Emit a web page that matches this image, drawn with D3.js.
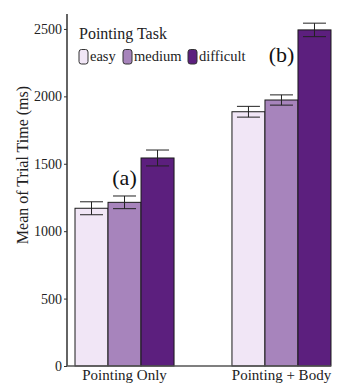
<!DOCTYPE html>
<html><head><meta charset="utf-8">
<script src="https://cdn.jsdelivr.net/npm/d3@7"></script>
<style>body{margin:0;background:#fff}text{font-family:"Liberation Serif","Times New Roman",serif}</style>
</head><body><svg id="c" width="339" height="385"></svg>
<script>
const groups = ["Pointing Only", "Pointing + Body"];
const levels = ["easy", "medium", "difficult"];
const means = [[1170, 1214, 1543], [1886, 1973, 2493]];
const errs = [[48, 47, 59], [40, 38, 50]];
const annotations = ["(a)", "(b)"];
const annotationY = [1343, 2255];
const yTicks = [0, 500, 1000, 1500, 2000, 2500];
const colors = ["#f1e6f6", "#a784bc", "#5c1f7e"];

const svg = d3.select("#c");
const L = 67, R = 339, T = 14, B = 366;
const y = d3.scaleLinear().domain([0, 2611]).range([B, T]);
const x0 = d3.scaleBand().domain(groups).range([L, R]).paddingInner(0.369).paddingOuter(0.051);
const x1 = d3.scaleBand().domain(levels).range([0, x0.bandwidth()]).padding(0);

groups.forEach((g, gi) => {
  const gg = svg.append("g").attr("transform", `translate(${x0(g)},0)`);
  levels.forEach((l, li) => {
    gg.append("rect").attr("x", x1(l)).attr("y", y(means[gi][li]))
      .attr("width", x1.bandwidth()).attr("height", y(0) - y(means[gi][li]))
      .attr("fill", colors[li]).attr("stroke", "#1a1a1a").attr("stroke-width", 1);
  });
  levels.forEach((l, li) => {
    const cx = x1(l) + x1.bandwidth() / 2, hw = 11.5;
    const lo = y(means[gi][li] - errs[gi][li]), hi = y(means[gi][li] + errs[gi][li]);
    gg.append("line").attr("x1", cx).attr("x2", cx).attr("y1", lo).attr("y2", hi).attr("stroke", "#222");
    gg.append("line").attr("x1", cx - hw).attr("x2", cx + hw).attr("y1", lo).attr("y2", lo).attr("stroke", "#222");
    gg.append("line").attr("x1", cx - hw).attr("x2", cx + hw).attr("y1", hi).attr("y2", hi).attr("stroke", "#222");
  });
  svg.append("text").attr("x", x0(g) + x0.bandwidth() / 2).attr("y", y(annotationY[gi]))
    .attr("text-anchor", "middle").attr("font-size", 22).attr("fill", "#111").text(annotations[gi]);
});

// y axis
const ya = svg.append("g").attr("transform", `translate(${L},0)`)
  .call(d3.axisLeft(y).tickValues(yTicks).tickSize(3).tickPadding(2).tickFormat(d3.format("d")));
ya.select(".domain").attr("d", `M0,${T}V${B}`).attr("stroke", "#111").attr("stroke-width", 1.3);
ya.selectAll(".tick line").attr("stroke", "#333");
ya.selectAll("text").attr("font-size", 14).attr("fill", "#222");

// x axis
const xa = svg.append("g").attr("transform", `translate(0,${B})`)
  .call(d3.axisBottom(x0).tickSize(0).tickPadding(3));
xa.select(".domain").attr("d", `M${L},0H${R - 8}`).attr("stroke", "#555").attr("stroke-width", 1.3);
xa.selectAll("text").attr("font-size", 15).attr("fill", "#222");

// y title
svg.append("text").attr("transform", `translate(28,165) rotate(-90)`)
  .attr("text-anchor", "middle").attr("font-size", 16).attr("fill", "#222").text("Mean of Trial Time (ms)");

// legend
const lg = svg.append("g");
lg.append("text").attr("x", 79).attr("y", 39).attr("font-size", 16).attr("fill", "#222").text("Pointing Task");
const keyX = [79, 123, 188];
levels.forEach((l, i) => {
  lg.append("rect").attr("x", keyX[i]).attr("y", 49.5).attr("width", 9).attr("height", 14.5).attr("rx", 2.5)
    .attr("fill", colors[i]).attr("stroke", "#333").attr("stroke-width", 1);
  lg.append("text").attr("x", keyX[i] + 11).attr("y", 61).attr("font-size", 14.5).attr("fill", "#222").text(l);
});
</script></body></html>
